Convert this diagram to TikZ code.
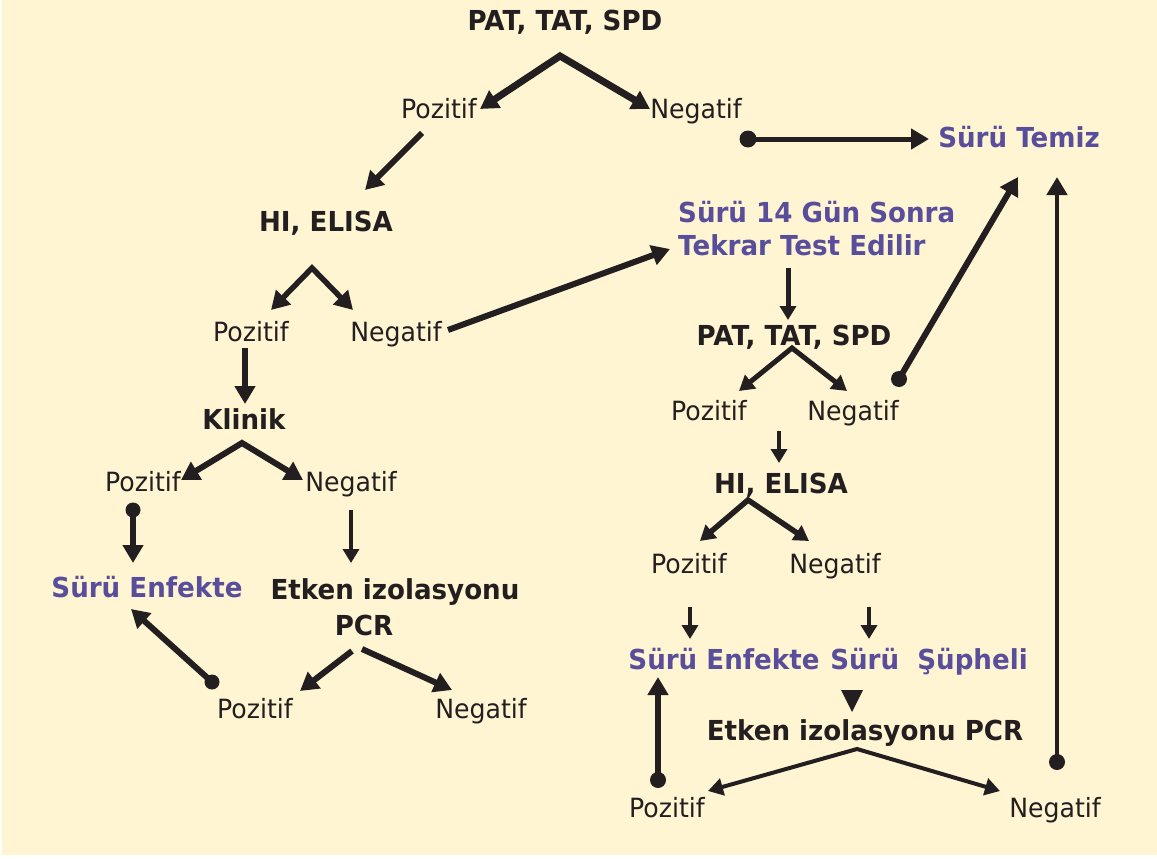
\documentclass[tikz,border=0pt]{standalone}
\usepackage{fontspec}
\setmainfont{DejaVu Sans}[FakeStretch=0.95]
\usetikzlibrary{arrows.meta}
\definecolor{bg}{RGB}{255,245,210}
\definecolor{purp}{RGB}{88,78,155}
\definecolor{ink}{RGB}{35,31,32}
\begin{document}
\begin{tikzpicture}[x=1pt,y=-1pt,
  txt/.style={font=\fontsize{26.5}{33}\selectfont, text=ink, inner sep=0pt, anchor=base},
  bld/.style={txt, font=\fontsize{27.5}{33}\selectfont\bfseries},
  pur/.style={bld, text=purp},
  arr/.style={draw=ink, line width=#1, line join=miter, -{Triangle[length=18pt,width=20pt]}},
  sarr/.style={draw=ink, line width=#1, line join=miter, -{Triangle[length=14pt,width=16pt]}},
  varr/.style={draw=ink, line width=#1, line join=miter, {Triangle[length=18pt,width=20pt]}-{Triangle[length=18pt,width=20pt]}},
  svarr/.style={draw=ink, line width=#1, line join=miter, {Triangle[length=15pt,width=17pt]}-{Triangle[length=15pt,width=17pt]}},
  dot/.style={fill=ink}
]
\useasboundingbox (0,0) rectangle (1157,859);
\fill[white] (0,0) rectangle (1157,859);
\fill[bg] (2,0) rectangle (1157,855);

% ---------- nodes ----------
\node[bld] (t1) at (565,31) {PAT, TAT, SPD};
\node[txt] (p1) at (439,118) {Pozitif};
\node[txt] (n1) at (696,118) {Negatif};
\node[pur] (temiz) at (1019,147) {Sürü Temiz};
\node[bld] (hi1) at (326,231) {HI, ELISA};
\node[txt] (p2) at (251,341) {Pozitif};
\node[txt] (n2) at (396,341) {Negatif};
\node[pur, anchor=base west, align=left] (tekrar) at (678,255) {Sürü 14 Gün Sonra\\Tekrar Test Edilir};
\node[bld] (klinik) at (244,429) {Klinik};
\node[txt] (p3) at (143,491) {Pozitif};
\node[txt] (n3) at (351,491) {Negatif};
\node[pur] (enf1) at (147,597) {Sürü Enfekte};
\node[bld] (etk1) at (395,599) {Etken izolasyonu};
\node[bld] (pcr1) at (364,635) {PCR};
\node[txt] (p4) at (255,718) {Pozitif};
\node[txt] (n4) at (481,718) {Negatif};

\node[bld] (t2) at (794,345) {PAT, TAT, SPD};
\node[txt] (p5) at (709,420) {Pozitif};
\node[txt] (n5) at (853,420) {Negatif};
\node[bld] (hi2) at (781,493) {HI, ELISA};
\node[txt] (p6) at (689,573) {Pozitif};
\node[txt] (n6) at (835,573) {Negatif};
\node[pur] (enf2) at (724,669) {Sürü Enfekte};
\node[pur] (sup) at (929,669) {Sürü\ \ Şüpheli};
\node[bld] (etk2) at (865,740) {Etken izolasyonu PCR};
\node[txt] (p7) at (667,817) {Pozitif};
\node[txt] (n7) at (1055,817) {Negatif};

% ---------- coordinates ----------
\coordinate (a1) at (560,56);
\coordinate (a1l) at (480,109);
\coordinate (a1r) at (650,109);
\coordinate (p1s) at (422,133);
\coordinate (hi1t) at (365,190);
\coordinate (n1d) at (748,139);
\coordinate (temizw) at (929,139);
\coordinate (a2) at (312,268);
\coordinate (a2l) at (271,310);
\coordinate (a2r) at (353,310);
\coordinate (n2e) at (448,330);
\coordinate (tekw) at (670,249);
\coordinate (p2s) at (245,348);
\coordinate (klt) at (245,404);
\coordinate (a3) at (242,443);
\coordinate (a3l) at (181,480);
\coordinate (a3r) at (303,480);
\coordinate (p3d) at (133,510);
\coordinate (enf1n) at (133,563);
\coordinate (n3s) at (351,510);
\coordinate (etk1n) at (351,563);
\coordinate (p4d) at (212,682);
\coordinate (enf1s) at (131,609);
\coordinate (pcl) at (352,651);
\coordinate (pclt) at (300,691);
\coordinate (pcr) at (362,649);
\coordinate (pcrt) at (452,690);

\coordinate (teks) at (788,268);
\coordinate (t2n) at (788,320);
\coordinate (a4) at (792,348);
\coordinate (a4l) at (739,391);
\coordinate (a4r) at (847,391);
\coordinate (n5d) at (899,379);
\coordinate (temizs) at (1018,177);
\coordinate (p5s) at (779,431);
\coordinate (hi2n) at (779,463);
\coordinate (a5) at (748,500);
\coordinate (a5l) at (700,541);
\coordinate (a5r) at (809,541);
\coordinate (p6s) at (690,607);
\coordinate (enf2n) at (690,639);
\coordinate (n6s) at (869,607);
\coordinate (supn) at (869,639);
\coordinate (a6) at (857,749);
\coordinate (a6l) at (708,791);
\coordinate (a6r) at (1000,791);
\coordinate (p7d) at (658,780);
\coordinate (enf2s) at (658,677);
\coordinate (n7d) at (1057,762);
\coordinate (temizs2) at (1057,177);

% ---------- connectors (left) ----------
\draw[varr=7] (a1l) -- (a1) -- (a1r);
\draw[arr=6] (p1s) -- (hi1t);
\draw[arr=5] (n1d) -- (temizw);
\fill[dot] (n1d) circle (8.5pt);
\draw[varr=5.5] (a2l) -- (a2) -- (a2r);
\draw[arr=6] (n2e) -- (tekw);
\draw[arr=6] (p2s) -- (klt);
\draw[varr=6] (a3l) -- (a3) -- (a3r);
\draw[arr=6] (p3d) -- (enf1n);
\fill[dot] (p3d) circle (7.5pt);
\draw[sarr=4] (n3s) -- (etk1n);
\draw[arr=6] (p4d) -- (enf1s);
\fill[dot] (p4d) circle (7.5pt);
\draw[arr=6] (pcl) -- (pclt);
\draw[arr=6] (pcr) -- (pcrt);

% ---------- connectors (right) ----------
\draw[sarr=5] (teks) -- (t2n);
\draw[svarr=5] (a4l) -- (a4) -- (a4r);
\draw[arr=6] (n5d) -- (temizs);
\fill[dot] (n5d) circle (8pt);
\draw[sarr=4] (p5s) -- (hi2n);
\draw[svarr=5.5] (a5l) -- (a5) -- (a5r);
\draw[sarr=4] (p6s) -- (enf2n);
\draw[sarr=4] (n6s) -- (supn);
\fill[ink] (841,690) -- (863,690) -- (852,712) -- cycle;
\draw[svarr=4] (a6l) -- (a6) -- (a6r);
\draw[arr=5.5] (p7d) -- (enf2s);
\fill[dot] (p7d) circle (8pt);
\draw[arr=4.5] (n7d) -- (temizs2);
\fill[dot] (n7d) circle (8pt);
\end{tikzpicture}
\end{document}
